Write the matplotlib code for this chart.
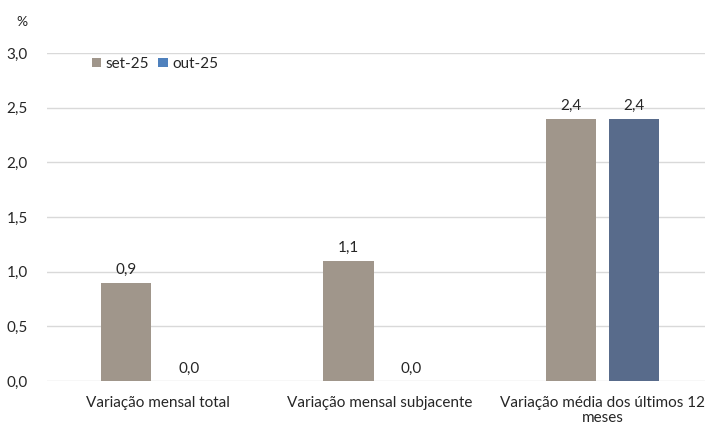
import numpy as np
import matplotlib.pyplot as plt

categories = ["Variação mensal total", "Variação mensal subjacente",
              "Variação média dos últimos 12\nmeses"]
set25 = [0.9, 1.1, 2.4]
out25 = [0.0, 0.0, 2.4]
labels_set = ["0,9", "1,1", "2,4"]
labels_out = ["0,0", "0,0", "2,4"]
yticks = [0.0, 0.5, 1.0, 1.5, 2.0, 2.5, 3.0]
ytick_labels = ["0,0", "0,5", "1,0", "1,5", "2,0", "2,5", "3,0"]

plt.rcParams['font.family'] = ['Lato', 'DejaVu Sans']
txt = "#262626"
fs = 11

fig = plt.figure(figsize=(7.05, 4.25), dpi=100)
ax = fig.add_axes([47 / 705, 44 / 425, 658 / 705, 328 / 425])

x = np.arange(len(categories))
w = 0.225
off = 0.1416
ax.bar(x - off, set25, w, color="#A0968B", label="set-25", zorder=3)
ax.bar(x + off, out25, w, color="#586B8B", zorder=3)
# legend patch for out-25 is brighter than the bar
ax.bar([0], [0], 0, color="#4F81BD", label="out-25")

for i in range(len(x)):
    ax.text(x[i] - off, set25[i] + 0.05, labels_set[i], ha="center", va="bottom",
            fontsize=fs, color=txt)
    ax.text(x[i] + off, out25[i] + 0.05, labels_out[i], ha="center", va="bottom",
            fontsize=fs, color=txt)

ax.set_xlim(-0.497, 2.461)
ax.set_ylim(0, 3.0)
ax.set_yticks(yticks)
ax.set_yticklabels(ytick_labels, fontsize=fs, color=txt)
ax.set_xticks(x)
ax.set_xticklabels(categories, fontsize=fs, color=txt, linespacing=1.1)
ax.tick_params(axis="both", length=0)
ax.tick_params(axis="x", pad=11)
ax.tick_params(axis="y", pad=14)
ax.grid(axis="y", color="#D9D9D9", linewidth=1, zorder=0)
for s in ax.spines.values():
    s.set_visible(False)

fig.text(22 / 705, 1 - 22 / 425, "%", fontsize=fs - 1, color=txt, ha="center", va="center")

ax.legend(loc="center left", bbox_to_anchor=(45 / 658, 1 - 11 / 328), ncol=2, frameon=False,
          fontsize=fs, handlelength=0.6, handleheight=0.6, handletextpad=0.3,
          columnspacing=0.6, labelcolor=txt, borderaxespad=0, borderpad=0)

fig.savefig("out.png", dpi=100)
